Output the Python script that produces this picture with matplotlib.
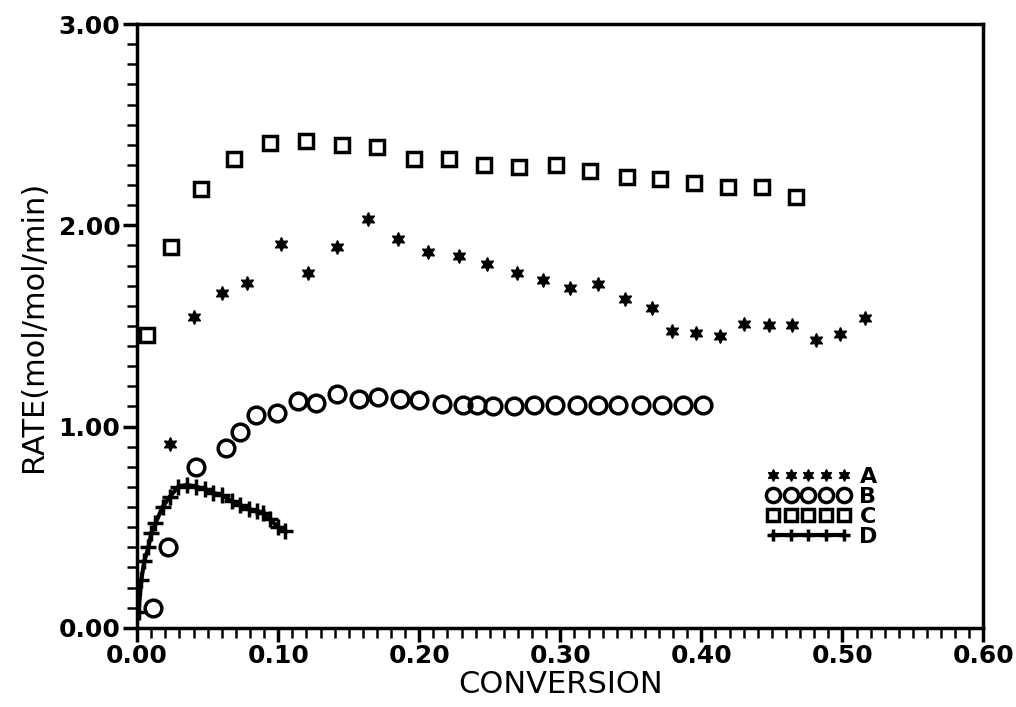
import matplotlib
matplotlib.use("Agg")
import matplotlib.pyplot as plt
from matplotlib.ticker import MultipleLocator, FormatStrFormatter

# Series A (stars)
a_x = [0.023, 0.040, 0.060, 0.078, 0.102, 0.121, 0.142, 0.164, 0.185, 0.206,
       0.228, 0.248, 0.269, 0.288, 0.307, 0.327, 0.346, 0.365, 0.379, 0.396,
       0.413, 0.430, 0.448, 0.464, 0.481, 0.498, 0.516]
a_y = [0.914, 1.545, 1.664, 1.714, 1.908, 1.764, 1.893, 2.032, 1.932, 1.868,
       1.848, 1.808, 1.764, 1.729, 1.689, 1.709, 1.634, 1.590, 1.475, 1.465,
       1.451, 1.510, 1.505, 1.505, 1.431, 1.460, 1.540]

# Series B (circles)
b_x = [0.011, 0.022, 0.042, 0.063, 0.073, 0.084, 0.099, 0.114, 0.127, 0.142,
       0.157, 0.171, 0.186, 0.200, 0.216, 0.231, 0.241, 0.252, 0.267, 0.281,
       0.296, 0.312, 0.327, 0.341, 0.357, 0.372, 0.387, 0.401]
b_y = [0.099, 0.402, 0.800, 0.894, 0.974, 1.058, 1.068, 1.128, 1.118, 1.162,
       1.138, 1.148, 1.138, 1.133, 1.113, 1.108, 1.108, 1.103, 1.103, 1.108,
       1.108, 1.108, 1.108, 1.108, 1.108, 1.108, 1.108, 1.108]

# Series C (squares)
c_x = [0.007, 0.024, 0.045, 0.069, 0.094, 0.120, 0.145, 0.170, 0.196, 0.221,
       0.246, 0.271, 0.297, 0.321, 0.347, 0.371, 0.395, 0.419, 0.443, 0.467]
c_y = [1.456, 1.890, 2.180, 2.330, 2.410, 2.420, 2.400, 2.390, 2.330, 2.330,
       2.300, 2.290, 2.300, 2.270, 2.240, 2.230, 2.210, 2.190, 2.190, 2.140]

# Series D (plus with line)
d_x = [0.001, 0.003, 0.005, 0.008, 0.010, 0.013, 0.018, 0.023, 0.029, 0.035,
       0.042, 0.048, 0.054, 0.060, 0.067, 0.073, 0.079, 0.085, 0.089, 0.094,
       0.100, 0.105]
d_y = [0.08, 0.24, 0.33, 0.40, 0.47, 0.52, 0.60, 0.65, 0.70, 0.71,
       0.70, 0.69, 0.67, 0.66, 0.63, 0.61, 0.59, 0.58, 0.57, 0.54,
       0.50, 0.48]

labels = ["A", "B", "C", "D"]
x_ticks = [0.0, 0.1, 0.2, 0.3, 0.4, 0.5, 0.6]
y_ticks = [0.0, 1.0, 2.0, 3.0]

plt.rcParams['font.family'] = ['DejaVu Sans']

fig = plt.figure(figsize=(10.16, 7.07), dpi=100)
ax = fig.add_axes([0.135, 0.112, 0.833, 0.854])

ax.plot(a_x, a_y, linestyle='none', marker=(6, 1, 0), markersize=10,
        color='black', label=labels[0])
ax.plot(b_x, b_y, linestyle='none', marker='o', markersize=12,
        markerfacecolor='none', markeredgecolor='black', markeredgewidth=2.5,
        label=labels[1])
ax.plot(c_x, c_y, linestyle='none', marker='s', markersize=10.5,
        markerfacecolor='none', markeredgecolor='black', markeredgewidth=2.5,
        label=labels[2])
ax.plot(d_x, d_y, linestyle='-', linewidth=3, marker='+', markersize=11,
        markeredgewidth=2.5, color='black', label=labels[3])

ax.set_xlim(0, 0.6)
ax.set_ylim(0, 3.0)
ax.set_xticks(x_ticks)
ax.set_yticks(y_ticks)
ax.xaxis.set_major_formatter(FormatStrFormatter('%.2f'))
ax.yaxis.set_major_formatter(FormatStrFormatter('%.2f'))
ax.xaxis.set_minor_locator(MultipleLocator(0.01))
ax.yaxis.set_minor_locator(MultipleLocator(0.1))
ax.tick_params(which='major', direction='out', length=10, width=2.5,
               labelsize=18, pad=2)
ax.tick_params(which='minor', direction='out', length=7, width=1.8)
for lab in ax.get_xticklabels() + ax.get_yticklabels():
    lab.set_fontweight('bold')

for s in ax.spines.values():
    s.set_linewidth(2.5)

ax.set_xlabel("CONVERSION", fontsize=22, labelpad=1)
ax.set_ylabel("RATE(mol/mol/min)", fontsize=22, labelpad=8)

leg = ax.legend(loc='center left', bbox_to_anchor=(0.73, 0.20), numpoints=5,
                handlelength=3.8, handletextpad=0.4, labelspacing=0.0,
                markerscale=0.85, frameon=False, fontsize=16, borderpad=0)
for t in leg.get_texts():
    t.set_fontweight('bold')

fig.savefig("out.png", dpi=100)
